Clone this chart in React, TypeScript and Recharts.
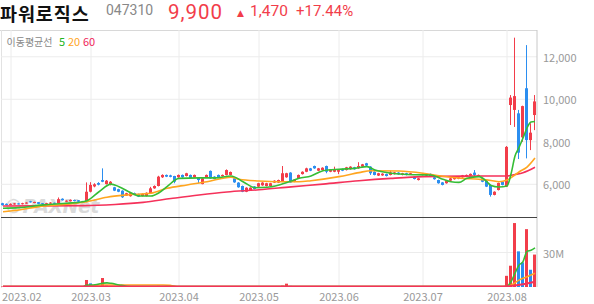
import React from 'react';
import { ComposedChart, Bar, Line, XAxis, YAxis, CartesianGrid } from 'recharts';

const FONT = '"Noto Sans CJK KR", "Noto Sans", sans-serif';
const RED = '#f23d4a';
const BLUE = '#2b8ef0';
const GREEN = '#35bd35';
const ORANGE = '#ffa51f';
const PINK = '#f5315a';

// ---- header ----
const stockName = '파워로직스';
const stockCode = '047310';
const lastPrice = '9,900';
const change = '1,470';
const changePct = '+17.44%';
const watermark = '©PAXNet';

// ---- categories: trading days ----
const tradingDays: [string, number[]][] = [
  ['2023-01', [30, 31]],
  ['2023-02', [1, 2, 3, 6, 7, 8, 9, 10, 13, 14, 15, 16, 17, 20, 21, 22, 23, 24, 27, 28]],
  ['2023-03', [2, 3, 6, 7, 8, 9, 10, 13, 14, 15, 16, 17, 20, 21, 22, 23, 24, 27, 28, 29, 30, 31]],
  ['2023-04', [3, 4, 5, 6, 7, 10, 11, 12, 13, 14, 17, 18, 19, 20, 21, 24, 25, 26, 27, 28]],
  ['2023-05', [2, 3, 4, 8, 9, 10, 11, 12, 15, 16, 17, 18, 19, 22, 23, 24, 25, 26, 30, 31]],
  ['2023-06', [1, 2, 5, 7, 8, 9, 12, 13, 14, 15, 16, 19, 20, 21, 22, 23, 26, 27, 28, 29, 30]],
  ['2023-07', [3, 4, 5, 6, 7, 10, 11, 12, 13, 14, 17, 18, 19, 20, 21, 24, 25, 26, 27, 28, 31]],
  ['2023-08', [1, 2, 3, 4, 7, 8, 9, 10]],
];

// ---- OHLC ----
const opens = [5110,5080,5030,5050,5100,5060,5090,5200,5120,5160, 5110,5060,5090,5130,5110,5320,5180,5200,5260,5250, 5200,5180,5650,5900,6060,6200,6010,5970,5860,5770, 5700,5470,5440,5590,5540,5450,5450,5580,5810,5920, 6330,6440,6420,6390,6330,6440,6390,6440,6330,6300, 6010,6330,6630,6360,6440,6380,6440,6440,6280,6080, 5920,5650,5720,5900,5890,5950,5920,5920,6080,6080, 6120,6330,6550,6120,6280,6480,6590,6750,6860,6640, 6670,6860,6590,6590,6590,6720,6670,6710,6800,6750, 6830,6990,6830,6590,6410,6420,6480,6440,6480,6550, 6440,6520,6470,6360,6200,6440,6410,6490,6330,6200, 6090,6050,6170,6240,6260,6330,6360,6410,6550,6360, 6280,6170,5970,5500,5730,6120,5890,9730,9500,9340, 8210,10520,8080,9260];
const highs = [5130,5100,5100,5120,5110,5130,5160,5220,5180,5170, 5120,5130,5160,5140,5380,5340,5250,5290,5280,5260, 5220,6090,6100,6050,6100,6750,6200,6150,5880,5790, 5720,5600,5600,5610,5560,5570,5620,5880,5950,6400, 6470,6460,6450,6400,6460,6460,6540,6460,6460,6320, 6300,6460,6650,6380,6460,6460,6700,6600,6300,6100, 5940,5860,5860,5920,6070,6100,6070,6070,6190,6220, 6860,6540,6570,6240,6460,6610,6780,6770,6880,6770, 6800,6880,6720,6830,6690,6740,6820,6850,6820,7040, 6960,7010,6850,6610,6540,6520,6500,6640,6580,6570, 6540,6540,6540,6380,6300,6510,6510,6510,6350,6220, 6110,6190,6300,6350,6350,6440,6460,6510,6670,6460, 6300,6190,5990,5670,6080,6140,7800,10200,12900,9500, 9700,12550,8870,10200];
const lows = [5000,5010,5020,5040,5050,5050,5080,5140,5110,5070, 5040,5050,5080,5080,5100,5240,5160,5190,5200,5170, 5140,5160,5620,5860,5950,6100,5990,5950,5680,5630, 5360,5450,5420,5490,5400,5430,5430,5560,5790,5900, 6300,6340,6330,6050,6310,6310,6370,6280,6310,6050, 6000,6310,6260,6230,6310,6360,6420,6420,6070,5840, 5630,5630,5700,5760,5870,5930,5900,5900,6060,6060, 6100,6310,6060,6100,6260,6460,6570,6620,6730,6620, 6650,6520,6570,6570,6480,6620,6650,6690,6690,6730, 6810,6860,6440,6420,6390,6400,6370,6420,6460,6450, 6420,6420,6450,6230,6180,6420,6390,6340,6220,6030, 5950,6030,6150,6220,6240,6310,6340,6390,6360,6340, 6100,5870,5420,5480,5710,5950,5870,8790,8700,7190, 8000,7220,7610,8550];
const closes = [5020,5030,5080,5100,5060,5110,5140,5150,5170,5080, 5060,5110,5140,5100,5300,5250,5230,5270,5210,5180, 5160,5650,5970,6000,5980,6120,6170,6120,5700,5650, 5390,5580,5580,5510,5420,5550,5600,5810,5920,6360, 6440,6360,6350,6120,6440,6330,6520,6300,6440,6200, 6280,6440,6280,6250,6330,6440,6670,6580,6090,5860, 5650,5840,5840,5780,6050,6080,6050,6050,6170,6200, 6520,6520,6080,6220,6440,6590,6750,6640,6750,6750, 6780,6590,6700,6700,6670,6640,6800,6830,6710,6860, 6940,6880,6520,6440,6520,6500,6390,6560,6560,6470, 6520,6440,6520,6250,6280,6490,6490,6360,6240,6050, 5970,6170,6280,6330,6330,6420,6440,6490,6440,6440, 6120,5890,5500,5650,6060,5970,7760,10080,10150,7490, 9680,8080,8430,9900];

// ---- volume (millions of shares) ----
const volumesM = [0.5,0.4,0.6,0.5,0.4,0.5,0.6,0.5,0.4,0.5, 0.4,0.4,0.5,0.4,0.9,0.6,0.4,0.5,0.4,0.4, 0.4,6.1,3.2,1.2,0.9,7.8,1.4,0.9,0.8,0.6, 0.8,0.5,0.5,0.4,0.5,0.4,0.5,0.9,0.7,1.1, 0.9,0.6,0.5,0.7,0.6,0.5,0.6,0.5,0.4,0.6, 0.5,0.5,0.8,0.5,0.4,0.4,0.7,0.5,0.6,0.7, 0.8,0.5,0.4,0.4,0.5,0.4,0.4,0.4,0.5,0.5, 1.2,2.9,1.0,0.5,0.6,0.6,0.7,0.5,0.6,0.5, 0.5,0.6,0.4,0.5,0.4,0.4,0.5,0.5,0.4,0.6, 0.5,0.5,0.7,0.5,0.4,0.4,0.4,0.5,0.4,0.4, 0.4,0.4,0.4,0.5,0.4,0.4,0.4,0.4,0.4,0.5, 0.5,0.4,0.4,0.4,0.4,0.4,0.4,0.4,0.5,0.4, 0.5,0.6,0.9,0.5,0.6,0.5,9.7,18.5,55.6,31.0, 21.4,50.3,15.0,28.2];

// ---- moving averages: [day index, value] ----
const ma5Points: [number, number][] = [[0,4870],[4,4900],[10,5030],[16,5110],[20,5180],[21,5230],[24,5650],[27,6010],[29,5890],[32,5600],[34,5450],[37,5450],[39,5600],[41,5890],[44,6280],[49,6300],[53,6300],[57,6390],[60,6120],[63,5840],[66,5860],[69,5970],[72,6150],[74,6280],[77,6390],[80,6640],[84,6710],[88,6750],[91,6830],[93,6670],[97,6520],[100,6470],[103,6450],[107,6440],[110,6235],[112,6120],[114,6090],[116,6280],[119,6360],[121,6120],[122,5940],[124,5870],[126,5920],[127,6485],[128,7330],[129,7730],[130,8180],[131,8650],[132,8930],[133,8955]];
const ma20Points: [number, number][] = [[0,4710],[4,4790],[9,4950],[16,5060],[21,5180],[26,5390],[31,5500],[37,5580],[41,5810],[46,5970],[51,6120],[57,6330],[59,6235],[64,6155],[69,6120],[74,6120],[77,6170],[84,6360],[89,6550],[92,6640],[99,6626],[105,6520],[109,6400],[115,6280],[119,6235],[122,6180],[124,6120],[126,6200],[128,6440],[129,6580],[131,6810],[133,7240]];
const ma60Points: [number, number][] = [[0,4980],[20,4995],[28,5050],[35,5150],[42,5330],[49,5500],[56,5640],[64,5740],[72,5880],[80,6010],[89,6170],[97,6280],[105,6360],[115,6385],[126,6390],[128,6460],[130,6545],[133,6800]];
const vma5Points: [number, number][] = [[0,0.4],[20,0.4],[21,1.6],[23,2.0],[25,3.3],[26,3.6],[27,3.2],[29,1.8],[31,0.6],[33,0.4],[125,0.4],[126,0.6],[127,4.6],[128,12],[129,19],[130,22],[131,31],[132,32],[133,34]];
const vma20Points: [number, number][] = [[0,0.4],[20,0.4],[21,0.7],[22,1.2],[25,1.7],[40,1.8],[42,1.3],[44,0.4],[125,0.4],[126,0.6],[127,1.5],[129,6],[131,9],[133,12]];
const vma60Points: [number, number][] = [[0,0.45],[125,0.45],[126,0.6],[128,1.3],[130,2.3],[131,3.0],[133,4.6]];

const priceTicks = [6000, 8000, 10000, 12000];
const priceDomain: [number, number] = [4414, 13261];
const volumeTicks = [30];
const volumeDomain: [number, number] = [0, 60];

// ---- build table ----
const dates: string[] = tradingDays.flatMap(([m, ds]) => ds.map((d) => `${m}-${String(d).padStart(2, '0')}`));
const lastIdx = dates.length - 1;
const monthStartIdx: number[] = dates
  .map((d, i) => (i > 0 && d.slice(0, 7) !== dates[i - 1].slice(0, 7) ? i : -1))
  .filter((i) => i >= 0);
const monthLabel = (i: number) => dates[i].slice(0, 7).replace('-', '.');

type Row = { [k: string]: any };
const rows: Row[] = dates.map((d, i) => ({
  idx: i,
  date: d,
  open: opens[i],
  high: highs[i],
  low: lows[i],
  close: closes[i],
  vol: volumesM[i],
  volUp: i === 0 || volumesM[i] >= volumesM[i - 1],
  ma5: null, ma20: null, ma60: null, vma5: null, vma20: null, vma60: null,
}));
const put = (pts: [number, number][], key: string) => pts.forEach(([i, v]) => { rows[i][key] = v; });
put(ma5Points, 'ma5');
put(ma20Points, 'ma20');
put(ma60Points, 'ma60');
put(vma5Points, 'vma5');
put(vma20Points, 'vma20');
put(vma60Points, 'vma60');

const fmt = (v: number) => String(v).replace(/\B(?=(\d{3})+(?!\d))/g, ',');

const Candle = (props: any) => {
  const { x, y, width, height, payload } = props;
  if (!payload || x == null || y == null) return null;
  const { open, close, high, low } = payload;
  const top = Math.min(y, y + height);
  const span = Math.abs(height);
  const ratio = high > low ? span / (high - low) : 0;
  const bodyTop = top + (high - Math.max(open, close)) * ratio;
  const bodyBottom = top + (high - Math.min(open, close)) * ratio;
  const color = close >= open ? RED : BLUE;
  const cx = x + width / 2;
  return (
    <g>
      <rect x={cx - 0.5} y={top} width={1} height={Math.max(span, 1)} fill={color} />
      <rect x={x} y={bodyTop} width={width} height={Math.max(bodyBottom - bodyTop, 1)} fill={color} />
    </g>
  );
};

const VolBar = (props: any) => {
  const { x, y, width, height, payload } = props;
  if (!payload || x == null || y == null) return null;
  const top = Math.min(y, y + height);
  return <rect x={x} y={top} width={width} height={Math.abs(height)} fill={payload.volUp ? RED : BLUE} />;
};

const PriceTick = (props: any) => {
  const { x, y, payload } = props;
  return (
    <text x={x} y={y + 5} fill="#999" fontSize={11} fontFamily={FONT} textAnchor="start">
      {fmt(payload.value)}
    </text>
  );
};
const VolTick = (props: any) => {
  const { x, y, payload } = props;
  return (
    <text x={x} y={y + 5} fill="#999" fontSize={11} fontFamily={FONT} textAnchor="start">
      {`${payload.value}M`}
    </text>
  );
};
const DateTick = (props: any) => {
  const { x, y, payload, index } = props;
  const first = index === 0;
  return (
    <text x={first ? 2 : x} y={y + 14} fill="#999" fontSize={11} fontFamily={FONT} textAnchor={first ? 'start' : 'middle'}>
      {monthLabel(payload.value)}
    </text>
  );
};

const headStyle = (left: number, top: number, size: number, color: string, family: string, extra: React.CSSProperties = {}): React.CSSProperties => ({
  position: 'absolute', left, top, fontSize: size, lineHeight: 'normal', color,
  fontFamily: family, whiteSpace: 'nowrap', margin: 0, padding: 0, ...extra,
});

export default function App() {
  const xDomain: [number, number] = [-0.5, lastIdx + 0.5];
  return (
    <div style={{ position: 'absolute', left: 0, top: 0, width: 594, height: 304, background: '#fff', fontFamily: FONT }}>
      {/* underlay: frame + watermark */}
      <svg width={594} height={304} style={{ position: 'absolute', left: 0, top: 0 }}>
        <line x1={0} x2={537} y1={30.5} y2={30.5} stroke="#d8d8d8" strokeWidth={1} />
        <line x1={1.5} x2={1.5} y1={30} y2={288} stroke="#e2e2e2" strokeWidth={1} />
        <text x={4} y={213} fontSize={19} fontWeight={900} fontStyle="italic" fill="#bdbdbd" opacity={0.55} fontFamily="DejaVu Sans" letterSpacing={-0.5}>{watermark}</text>
      </svg>

      <div style={{ position: 'absolute', left: 0, top: 0 }}>
        <ComposedChart width={594} height={218} data={rows} margin={{ top: 30, right: 0, bottom: 0, left: 1 }}>
          <CartesianGrid stroke="#ececec" horizontalValues={priceTicks} verticalValues={monthStartIdx} />
          <XAxis type="number" dataKey="idx" domain={xDomain} ticks={monthStartIdx} allowDataOverflow hide />
          <YAxis
            orientation="right"
            width={57}
            domain={priceDomain}
            ticks={priceTicks}
            allowDataOverflow
            interval={0}
            axisLine={{ stroke: '#c8c8c8' }}
            tickLine={false}
            tickSize={0}
            tickMargin={6}
            tick={<PriceTick />}
          />
          <Bar dataKey={(d: Row) => [d.low, d.high]} barSize={3} shape={(p: any) => <Candle {...p} />} isAnimationActive={false} />
          <Line type="monotone" dataKey="ma60" stroke={PINK} strokeWidth={1.6} dot={false} connectNulls isAnimationActive={false} />
          <Line type="monotone" dataKey="ma20" stroke={ORANGE} strokeWidth={1.6} dot={false} connectNulls isAnimationActive={false} />
          <Line type="monotone" dataKey="ma5" stroke={GREEN} strokeWidth={1.6} dot={false} connectNulls isAnimationActive={false} />
        </ComposedChart>
      </div>

      <div style={{ position: 'absolute', left: 0, top: 218 }}>
        <ComposedChart width={594} height={86} data={rows} margin={{ top: 0, right: 0, bottom: 0, left: 1 }}>
          <CartesianGrid stroke="#ececec" horizontalValues={volumeTicks} verticalValues={monthStartIdx} />
          <XAxis
            type="number"
            dataKey="idx"
            domain={xDomain}
            ticks={monthStartIdx}
            allowDataOverflow
            interval={0}
            height={17}
            axisLine={false}
            tickLine={false}
            tickSize={0}
            tickMargin={0}
            tick={<DateTick />}
          />
          <YAxis
            orientation="right"
            width={57}
            domain={volumeDomain}
            ticks={volumeTicks}
            allowDataOverflow
            interval={0}
            axisLine={{ stroke: '#c8c8c8' }}
            tickLine={false}
            tickSize={0}
            tickMargin={6}
            tick={<VolTick />}
          />
          <Bar dataKey="vol" barSize={3} shape={(p: any) => <VolBar {...p} />} isAnimationActive={false} />
          <Line type="monotone" dataKey="vma20" stroke={ORANGE} strokeWidth={1.6} dot={false} connectNulls isAnimationActive={false} />
          <Line type="monotone" dataKey="vma5" stroke={GREEN} strokeWidth={1.6} dot={false} connectNulls isAnimationActive={false} />
          <Line type="monotone" dataKey="vma60" stroke={PINK} strokeWidth={2} dot={false} connectNulls isAnimationActive={false} />
        </ComposedChart>
      </div>

      {/* header as HTML text */}
      <div style={headStyle(0, 0, 18.5, '#111', FONT, { fontWeight: 700, letterSpacing: 0.9 })}>{stockName}</div>
      <div style={headStyle(106, 2, 14, '#888', 'Roboto, "Noto Sans", sans-serif')}>{stockCode}</div>
      <div style={headStyle(168, 0, 20.5, RED, 'Roboto, "Noto Sans", sans-serif', { letterSpacing: 1 })}>{lastPrice}</div>
      <div style={headStyle(250, 1.5, 15.5, RED, 'Roboto, "Noto Sans", sans-serif')}>{change}</div>
      <div style={headStyle(296, 1.5, 15, RED, 'Roboto, "Noto Sans", sans-serif')}>{changePct}</div>

      {/* overlay: separator, arrow, legend */}
      <svg width={594} height={304} style={{ position: 'absolute', left: 0, top: 0, pointerEvents: 'none' }}>
        <line x1={1} x2={537} y1={217.5} y2={217.5} stroke="#444" strokeWidth={1} />
        <text x={237} y={15.5} fontSize={9} fill={RED} fontFamily="DejaVu Sans">▲</text>
        <text x={6.5} y={46} fontSize={10} fill="#888" fontFamily={FONT}>이동평균선</text>
        <text x={59} y={46} fontSize={11} fill="#22b522" fontFamily={FONT}>5</text>
        <text x={68} y={46} fontSize={11} fill={ORANGE} fontFamily={FONT}>20</text>
        <text x={83} y={46} fontSize={11} fill="#f0245a" fontFamily={FONT}>60</text>
      </svg>
    </div>
  );
}
